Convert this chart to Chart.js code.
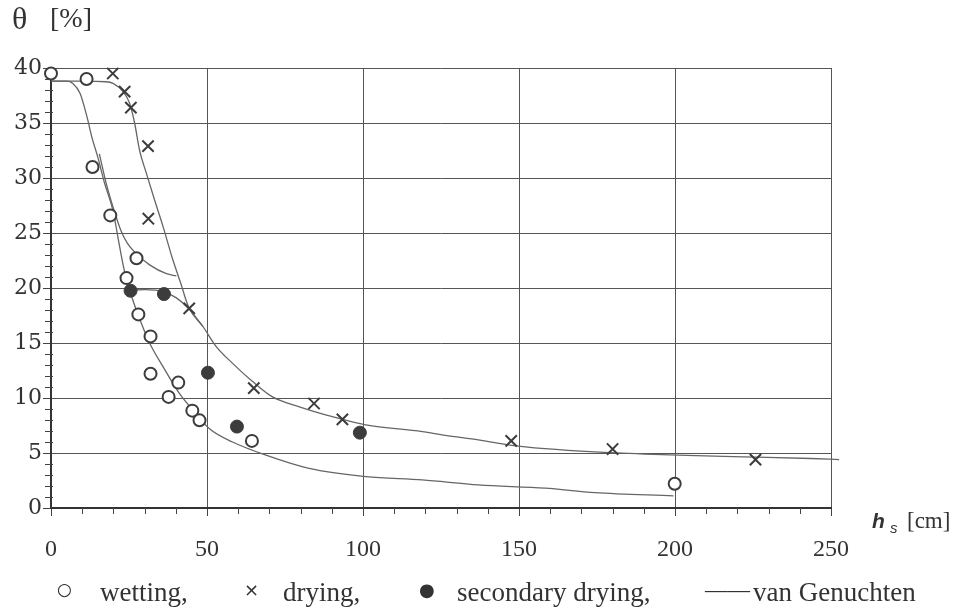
<!DOCTYPE html>
<html>
<head>
<meta charset="utf-8">
<script src="https://cdn.jsdelivr.net/npm/chart.js@4"></script>
<style>
  body { margin: 0; background: #fff; }
  #wrap { position: relative; width: 975px; height: 613px; }
  #chart { position: absolute; left: 0; top: 0; }
  .lbl { position: absolute; line-height: 1; color: #333; white-space: nowrap; font-family: "Liberation Serif", serif; }
</style>
</head>
<body>
<div id="wrap">
  <canvas id="chart" width="975" height="613"></canvas>
  <span class="lbl" style="left:12px; top:2px; font-size:32px;">θ</span>
  <span class="lbl" style="left:50px; top:4px; font-size:28px;">[%]</span>
  <span class="lbl" style="left:872px; top:510px; font-size:21px; font-family:'Liberation Sans',sans-serif; font-style:italic; font-weight:bold;">h</span>
  <span class="lbl" style="left:890px; top:520px; font-size:15px; font-family:'Liberation Sans',sans-serif; font-style:italic;">s</span>
  <span class="lbl" style="left:907px; top:509px; font-size:23px;">[cm]</span>
  <span class="lbl" style="left:57px; top:581px; font-size:17px; font-family:'DejaVu Sans',sans-serif;">○</span>
  <span class="lbl" style="left:100px; top:579px; font-size:27px;">wetting,</span>
  <span class="lbl" style="left:244px; top:581px; font-size:18px; font-family:'DejaVu Sans',sans-serif;">×</span>
  <span class="lbl" style="left:283px; top:579px; font-size:27px;">drying,</span>
  <span class="lbl" style="left:419px; top:581px; font-size:18px; font-family:'DejaVu Sans',sans-serif;">●</span>
  <span class="lbl" style="left:457px; top:579px; font-size:27px;">secondary drying,</span>
  <span class="lbl" style="left:705px; top:579px; font-size:22.5px;">——</span>
  <span class="lbl" style="left:753px; top:579px; font-size:27px;">van Genuchten</span>
</div>
<script>
// measured points, h_s [cm] vs theta [%]
const wettingX = [0, 11.4, 13.3, 19.0, 27.4, 24.2, 28.0, 31.9, 31.9, 37.7, 40.8, 45.3, 47.6, 64.4, 199.9];
const wettingY = [39.5, 39.0, 31.0, 26.6, 22.7, 20.9, 17.6, 15.6, 12.2, 10.1, 11.4, 8.85, 7.97, 6.1, 2.2];

const dryingX = [19.8, 23.6, 25.6, 31.1, 31.2, 44.3, 65.0, 84.3, 93.4, 147.5, 180.0, 225.8];
const dryingY = [39.5, 37.85, 36.4, 32.9, 26.3, 18.15, 10.9, 9.5, 8.06, 6.1, 5.36, 4.4];

const secondaryX = [25.5, 36.2, 50.3, 59.6, 99.0];
const secondaryY = [19.75, 19.45, 12.3, 7.4, 6.85];

// van Genuchten curves
const vgWetX = [0, 5, 7, 9.3, 11.5, 13.2, 15.0, 17.2, 19.9, 21.4, 22.9, 24.5, 25.5, 28.4, 31.6, 35.9, 41.2, 45.5, 50.8, 58.2, 68.9, 82.7, 100.9, 119, 137, 158.4, 174.3, 199.5];
const vgWetY = [38.8, 38.8, 38.6, 37.7, 35.6, 33.6, 31.9, 29.5, 27.0, 24.7, 22.4, 20.4, 19.5, 17.2, 15.0, 12.85, 10.4, 8.9, 7.2, 6.0, 4.8, 3.6, 2.85, 2.55, 2.1, 1.8, 1.4, 1.1];

const vgDryX = [0, 10, 17.5, 19.9, 23.1, 25.2, 26.8, 28.4, 30.6, 33.2, 35.9, 38.8, 41.5, 44.2, 48.7, 52.9, 58.2, 64.6, 71.0, 79.6, 90.2, 100.9, 119, 126.4, 137, 147.7, 158.4, 174.3, 190.3, 201, 222, 243.5, 252.6];
const vgDryY = [38.8, 38.8, 38.75, 38.6, 37.85, 36.8, 35.0, 32.5, 30.4, 28.0, 25.6, 22.8, 20.5, 18.2, 16.5, 14.7, 13.15, 11.5, 10.1, 9.2, 8.3, 7.55, 6.95, 6.6, 6.2, 5.7, 5.4, 5.1, 4.9, 4.8, 4.65, 4.5, 4.4];

const vgScanX = [15.5, 17.8, 20.5, 22.3, 24.4, 27.4, 31.6, 37.0, 40.2];
const vgScanY = [32.2, 29.4, 26.8, 25.3, 24.1, 23.1, 22.1, 21.3, 21.1];

const vgSecX = [25.2, 30.0, 35.9, 40.2, 44.2, 48.7];
const vgSecY = [19.8, 19.85, 19.7, 19.1, 18.1, 16.5];

// axis ticks
const xMajor = [0, 50, 100, 150, 200, 250];
const yMajor = [0, 5, 10, 15, 20, 25, 30, 35, 40];
const xMinor = [10, 20, 30, 40, 60, 70, 80, 90, 110, 120, 130, 140, 160, 170, 180, 190, 210, 220, 230, 240];
const yMinor = [];
for (let v = 1; v < 40; v++) if (v % 5 !== 0) yMinor.push(v);

const toPts = (xs, ys) => xs.map((x, i) => ({ x: x, y: ys[i] }));

const ink = '#3c3c3c';
const curve = '#666';

// small ticks between the labelled ones
const minorTicks = {
    id: 'minorTicks',
    afterDraw(chart) {
        const c = chart.ctx;
        const area = chart.chartArea;
        const xs = chart.scales.x, ys = chart.scales.y;
        c.save();
        c.strokeStyle = '#444';
        c.lineWidth = 1;
        c.beginPath();
        xMinor.forEach(v => {
            const px = Math.round(xs.getPixelForValue(v)) + 0.5;
            c.moveTo(px, area.bottom);
            c.lineTo(px, area.bottom + 6);
        });
        yMinor.forEach(v => {
            const py = Math.round(ys.getPixelForValue(v)) + 0.5;
            c.moveTo(area.left - 6, py);
            c.lineTo(area.left + 2, py);
        });
        c.stroke();
        c.restore();
    }
};

function lineSet(xs, ys, extra) {
    return Object.assign({
        type: 'line',
        data: toPts(xs, ys),
        borderColor: curve,
        borderWidth: 1.3,
        pointRadius: 0,
        fill: false,
        tension: 0,
        cubicInterpolationMode: 'monotone',
        order: 2
    }, extra || {});
}

new Chart(document.getElementById('chart'), {
    type: 'scatter',
    data: {
        datasets: [
            {
                label: 'wetting',
                data: toPts(wettingX, wettingY),
                pointStyle: 'circle',
                pointRadius: 6,
                pointBorderWidth: 2,
                pointBorderColor: ink,
                pointBackgroundColor: '#fff',
                clip: 10,
                order: 1
            },
            {
                label: 'drying',
                data: toPts(dryingX, dryingY),
                pointStyle: 'crossRot',
                pointRadius: 8,
                pointBorderWidth: 2,
                pointBorderColor: ink,
                clip: 10,
                order: 1
            },
            {
                label: 'secondary drying',
                data: toPts(secondaryX, secondaryY),
                pointStyle: 'circle',
                pointRadius: 6.5,
                pointBorderWidth: 1,
                pointBorderColor: ink,
                pointBackgroundColor: ink,
                clip: 10,
                order: 1
            },
            lineSet(vgWetX, vgWetY),
            lineSet(vgDryX, vgDryY, { clip: { left: 0, top: 0, right: 15, bottom: 0 } }),
            lineSet(vgScanX, vgScanY),
            lineSet(vgSecX, vgSecY)
        ]
    },
    options: {
        responsive: false,
        animation: false,
        devicePixelRatio: 1,
        layout: { padding: { top: 68, right: 144, left: 0, bottom: 0 } },
        plugins: {
            legend: { display: false },
            tooltip: { enabled: false }
        },
        scales: {
            x: {
                type: 'linear',
                min: 0,
                max: 250,
                afterBuildTicks: s => { s.ticks = xMajor.map(v => ({ value: v })); },
                afterFit: s => { s.height = 105; },
                ticks: {
                    font: { family: 'Liberation Serif', size: 24 },
                    color: '#333',
                    padding: 19,
                    maxRotation: 0
                },
                grid: { color: '#555', lineWidth: 1, tickLength: 8, tickColor: '#444' },
                border: { color: '#333', width: 2 }
            },
            y: {
                min: 0,
                max: 40,
                afterBuildTicks: s => { s.ticks = yMajor.map(v => ({ value: v })); },
                afterFit: s => { s.width = 51; },
                ticks: {
                    font: { family: 'DejaVu Serif', size: 22 },
                    color: '#333',
                    padding: 1
                },
                grid: { color: '#555', lineWidth: 1, tickLength: 8, tickColor: '#444' },
                border: { color: '#333', width: 2 }
            }
        }
    },
    plugins: [minorTicks]
});
</script>
</body>
</html>
